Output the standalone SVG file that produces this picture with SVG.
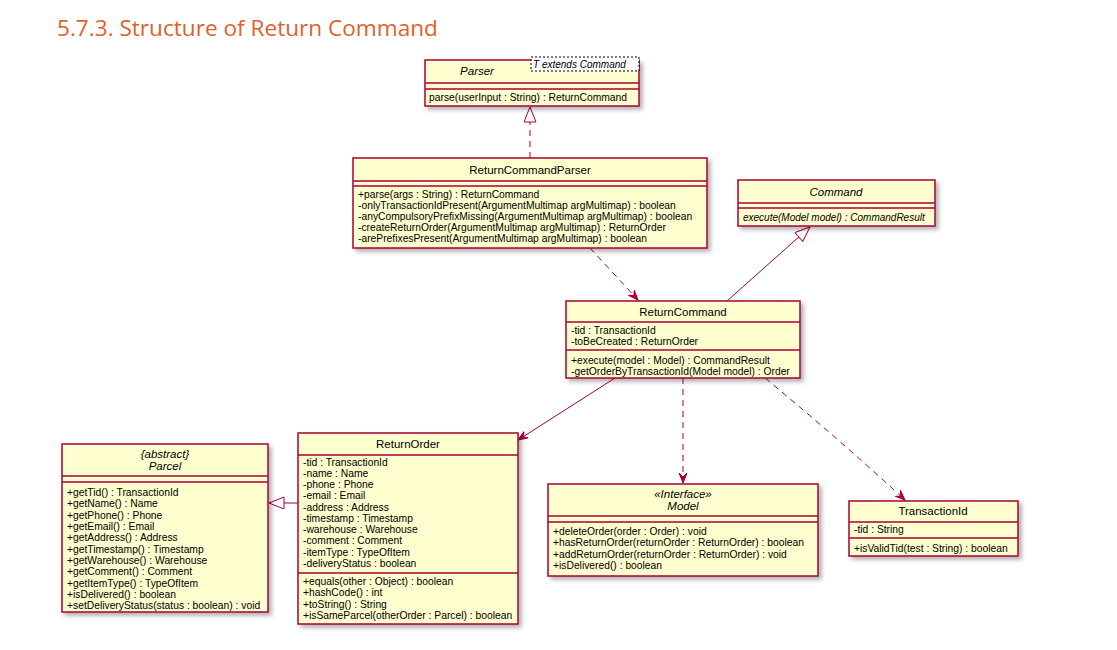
<svg xmlns="http://www.w3.org/2000/svg" width="1117" height="650" viewBox="0 0 1117 650">
<defs>
<filter id="sh" x="-10%" y="-10%" width="130%" height="130%">
<feDropShadow dx="3" dy="3" stdDeviation="2" flood-color="#000" flood-opacity="0.3"/>
</filter>
<marker id="arr" markerUnits="userSpaceOnUse" markerWidth="12" markerHeight="10" refX="10" refY="4" orient="auto">
<path d="M0,0 L10,4 L0,8 L4,4 Z" fill="#A80036" stroke="#A80036" stroke-width="1" stroke-dasharray="none"/>
</marker>
<marker id="tri" markerUnits="userSpaceOnUse" markerWidth="18" markerHeight="14" refX="16" refY="6" orient="auto">
<path d="M1,0 L16,6 L1,12 Z" fill="#FFFFFF" stroke="#A80036" stroke-width="1" stroke-dasharray="none"/>
</marker>
</defs>
<style>
.box{fill:#FEFECE;stroke:#A80036;stroke-width:1.5;filter:url(#sh)}
.sep{stroke:#A80036;stroke-width:1.5}
text{font-family:"Liberation Sans",Arial,sans-serif;fill:#000}
.n{font-size:11.5px;text-anchor:middle}
.m{font-size:10.3px}
.i{font-style:italic}
.mi{font-size:10px;font-style:italic}
.tpl{fill:#FFFFFF;stroke:#000;stroke-width:1;stroke-dasharray:2,2}
.c{fill:none;stroke:#A80036;stroke-width:1}
.d{stroke-dasharray:6,5}
.title{font-family:"Open Sans","Noto Sans",sans-serif;font-size:22.6px;fill:#E0612A}
</style>
<rect width="1117" height="650" fill="#FFFFFF"/>
<text class="title" x="57" y="36">5.7.3. Structure of Return Command</text>

<g id="connectors">
<line class="c d" x1="530" y1="158" x2="530" y2="107" marker-end="url(#tri)"/>
<line class="c d" x1="590" y1="248" x2="638" y2="300" marker-end="url(#arr)"/>
<line class="c" x1="727" y1="301" x2="810" y2="227" marker-end="url(#tri)"/>
<line class="c" x1="615" y1="378" x2="518" y2="440" marker-end="url(#arr)"/>
<line class="c d" x1="683" y1="378" x2="683" y2="483" marker-end="url(#arr)"/>
<path class="c d" d="M765,378 Q840,440 905,500" marker-end="url(#arr)"/>
<line class="c" x1="298" y1="503" x2="269" y2="503" marker-end="url(#tri)"/>
</g>

<g id="Parser">
<rect class="box" x="425" y="60" width="214" height="46"/>
<line class="sep" x1="425" y1="83" x2="639" y2="83"/>
<line class="sep" x1="425" y1="89" x2="639" y2="89"/>
<text class="n i" x="477" y="75">Parser</text>
<rect class="tpl" x="531" y="57" width="108" height="14"/>
<text class="mi" x="533" y="68">T extends Command</text>
<text class="m" x="429" y="101">parse(userInput : String) : ReturnCommand</text>
</g>

<g id="ReturnCommandParser">
<rect class="box" x="353" y="158" width="354" height="90"/>
<line class="sep" x1="353" y1="181" x2="707" y2="181"/>
<line class="sep" x1="353" y1="186" x2="707" y2="186"/>
<text class="n" x="530" y="174">ReturnCommandParser</text>
<text class="m" x="358" y="198">+parse(args : String) : ReturnCommand</text>
<text class="m" x="358" y="209">-onlyTransactionIdPresent(ArgumentMultimap argMultimap) : boolean</text>
<text class="m" x="358" y="220">-anyCompulsoryPrefixMissing(ArgumentMultimap argMultimap) : boolean</text>
<text class="m" x="358" y="231">-createReturnOrder(ArgumentMultimap argMultimap) : ReturnOrder</text>
<text class="m" x="358" y="242">-arePrefixesPresent(ArgumentMultimap argMultimap) : boolean</text>
</g>

<g id="Command">
<rect class="box" x="738" y="180" width="197" height="46"/>
<line class="sep" x1="738" y1="203" x2="935" y2="203"/>
<line class="sep" x1="738" y1="208" x2="935" y2="208"/>
<text class="n i" x="836" y="196">Command</text>
<text class="mi" x="743" y="221">execute(Model model) : CommandResult</text>
</g>

<g id="ReturnCommand">
<rect class="box" x="566" y="301" width="234" height="77"/>
<line class="sep" x1="566" y1="322" x2="800" y2="322"/>
<line class="sep" x1="566" y1="350" x2="800" y2="350"/>
<text class="n" x="683" y="316">ReturnCommand</text>
<text class="m" x="571" y="334">-tid : TransactionId</text>
<text class="m" x="571" y="345">-toBeCreated : ReturnOrder</text>
<text class="m" x="571" y="364">+execute(model : Model) : CommandResult</text>
<text class="m" x="571" y="375">-getOrderByTransactionId(Model model) : Order</text>
</g>

<g id="Parcel">
<rect class="box" x="62" y="444" width="206" height="168"/>
<line class="sep" x1="62" y1="476" x2="268" y2="476"/>
<line class="sep" x1="62" y1="482" x2="268" y2="482"/>
<text class="n i" x="165" y="458">{abstract}</text>
<text class="n i" x="165" y="470">Parcel</text>
<text class="m" x="67" y="496">+getTid() : TransactionId</text>
<text class="m" x="67" y="507">+getName() : Name</text>
<text class="m" x="67" y="519">+getPhone() : Phone</text>
<text class="m" x="67" y="530">+getEmail() : Email</text>
<text class="m" x="67" y="541">+getAddress() : Address</text>
<text class="m" x="67" y="553">+getTimestamp() : Timestamp</text>
<text class="m" x="67" y="564">+getWarehouse() : Warehouse</text>
<text class="m" x="67" y="575">+getComment() : Comment</text>
<text class="m" x="67" y="587">+getItemType() : TypeOfItem</text>
<text class="m" x="67" y="598">+isDelivered() : boolean</text>
<text class="m" x="67" y="609">+setDeliveryStatus(status : boolean) : void</text>
</g>

<g id="ReturnOrder">
<rect class="box" x="298" y="433" width="220" height="191"/>
<line class="sep" x1="298" y1="455" x2="518" y2="455"/>
<line class="sep" x1="298" y1="573" x2="518" y2="573"/>
<text class="n" x="408" y="448">ReturnOrder</text>
<text class="m" x="303" y="466">-tid : TransactionId</text>
<text class="m" x="303" y="477">-name : Name</text>
<text class="m" x="303" y="488">-phone : Phone</text>
<text class="m" x="303" y="499">-email : Email</text>
<text class="m" x="303" y="511">-address : Address</text>
<text class="m" x="303" y="522">-timestamp : Timestamp</text>
<text class="m" x="303" y="533">-warehouse : Warehouse</text>
<text class="m" x="303" y="544">-comment : Comment</text>
<text class="m" x="303" y="556">-itemType : TypeOfItem</text>
<text class="m" x="303" y="567">-deliveryStatus : boolean</text>
<text class="m" x="303" y="585">+equals(other : Object) : boolean</text>
<text class="m" x="303" y="596">+hashCode() : int</text>
<text class="m" x="303" y="608">+toString() : String</text>
<text class="m" x="303" y="619">+isSameParcel(otherOrder : Parcel) : boolean</text>
</g>

<g id="Model">
<rect class="box" x="548" y="484" width="270" height="92"/>
<line class="sep" x1="548" y1="516" x2="818" y2="516"/>
<line class="sep" x1="548" y1="522" x2="818" y2="522"/>
<text class="n i" x="683" y="498">«Interface»</text>
<text class="n i" x="683" y="510">Model</text>
<text class="m" x="553" y="535">+deleteOrder(order : Order) : void</text>
<text class="m" x="553" y="546">+hasReturnOrder(returnOrder : ReturnOrder) : boolean</text>
<text class="m" x="553" y="558">+addReturnOrder(returnOrder : ReturnOrder) : void</text>
<text class="m" x="553" y="569">+isDelivered() : boolean</text>
</g>

<g id="TransactionId">
<rect class="box" x="849" y="501" width="169" height="55"/>
<line class="sep" x1="849" y1="522" x2="1018" y2="522"/>
<line class="sep" x1="849" y1="538" x2="1018" y2="538"/>
<text class="n" x="933" y="515">TransactionId</text>
<text class="m" x="854" y="533">-tid : String</text>
<text class="m" x="854" y="552">+isValidTid(test : String) : boolean</text>
</g>
</svg>
